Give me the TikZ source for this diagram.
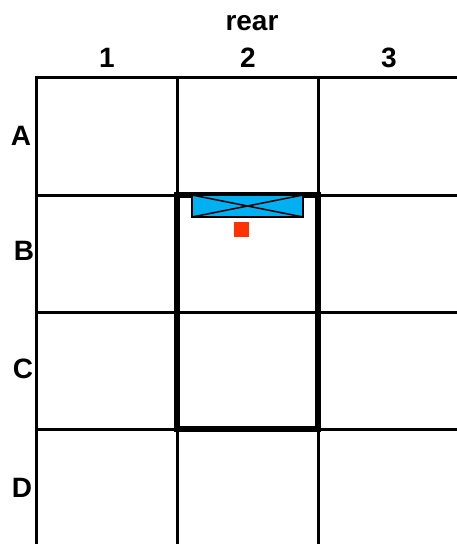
\documentclass[tikz,border=0pt]{standalone}
\usepackage{fontspec}
\setmainfont{Liberation Sans}
\definecolor{unitblue}{RGB}{0,176,240}
\definecolor{markred}{RGB}{255,51,0}
\begin{document}
\begin{tikzpicture}[x=1pt,y=-1pt,
  lbl/.style={font=\fontsize{28}{32}\selectfont\bfseries, anchor=base, inner sep=0pt},
  grid/.style={line width=3pt, line cap=rect},
  thick box/.style={line width=5.5pt},
]
\useasboundingbox (0,0) rectangle (456,544);
% grid
\draw[grid] (36,77) -- (456,77);
\draw[grid] (36,195) -- (456,195);
\draw[grid] (36,312) -- (456,312);
\draw[grid] (36,429) -- (456,429);
\draw[grid] (36,77) -- (36,544);
\draw[grid] (177,77) -- (177,544);
\draw[grid] (318,77) -- (318,544);
% thick outline
\draw[thick box] (177,195) rectangle (318,429);
% blue unit
\draw[line width=1.5pt, fill=unitblue] (192,195) rectangle (303,217);
\draw[line width=1.5pt] (192,195) -- (303,217) (192,217) -- (303,195);
% red square
\fill[markred] (234,222) rectangle (249,237);
% labels
\node[lbl] (rear) at (252,30) {rear};
\node[lbl] (c1) at (107,67) {1};
\node[lbl] (c2) at (248,67) {2};
\node[lbl] (c3) at (389,67) {3};
\node[lbl] (rA) at (21,145) {A};
\node[lbl] (rB) at (24,260) {B};
\node[lbl] (rC) at (23,378) {C};
\node[lbl] (rD) at (22,497) {D};
\end{tikzpicture}
\end{document}
